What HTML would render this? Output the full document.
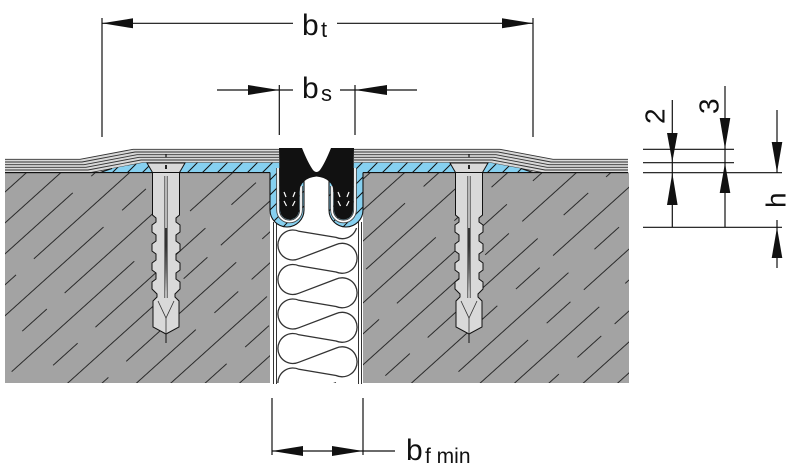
<!DOCTYPE html>
<html>
<head>
<meta charset="utf-8">
<style>
  html, body { margin: 0; padding: 0; background: #fff; }
  svg { display: block; }
  text { font-family: "Liberation Sans", Arial, sans-serif; fill: #111; }
</style>
</head>
<body>
<svg width="800" height="475" viewBox="0 0 800 475" xmlns="http://www.w3.org/2000/svg">
  <defs>
    <pattern id="ch" patternUnits="userSpaceOnUse" width="240" height="46" patternTransform="rotate(-42)">
      <g stroke="#2a2a2a" stroke-width="1.1">
        <line x1="0" y1="8" x2="165" y2="8"/>
        <line x1="190" y1="8" x2="222" y2="8"/>
        <line x1="35" y1="31" x2="68" y2="31"/>
        <line x1="92" y1="31" x2="240" y2="31"/>
      </g>
    </pattern>
    <pattern id="bh" patternUnits="userSpaceOnUse" width="15" height="15">
      <rect width="15" height="15" fill="#86d0f0"/>
      <path d="M-2,17 L17,-2 M-2,2 L2,-2 M13,17 L17,13" stroke="#111" stroke-width="1"/>
    </pattern>
    <clipPath id="foamclip"><rect x="277" y="228" width="81" height="155"/></clipPath>
  </defs>

  <!-- concrete blocks -->
  <rect x="5" y="172.5" width="265" height="210.5" fill="#a3a3a3"/>
  <rect x="5" y="172.5" width="265" height="210.5" fill="url(#ch)"/>
  <rect x="363" y="172.5" width="266" height="210.5" fill="#a3a3a3"/>
  <rect x="363" y="172.5" width="266" height="210.5" fill="url(#ch)"/>

  <!-- gap wall lines -->
  <g stroke="#333" stroke-width="1">
    <line x1="273.5" y1="222" x2="273.5" y2="384"/>
    <line x1="276.5" y1="222" x2="276.5" y2="384"/>
    <line x1="358.5" y1="222" x2="358.5" y2="384"/>
    <line x1="361.5" y1="222" x2="361.5" y2="384"/>
  </g>

  <!-- foam backer -->
  <g clip-path="url(#foamclip)">
    <path d="M336,210 A15 15 0 1 1 336,237.4 L299,231.3 A15 15 0 1 0 299,258.7 L336,244.6 A15 15 0 1 1 336,272 L299,265.8 A15 15 0 1 0 299,293.2 L336,279.1 A15 15 0 1 1 336,306.5 L299,300.3 A15 15 0 1 0 299,327.7 L336,313.6 A15 15 0 1 1 336,341 L299,334.8 A15 15 0 1 0 299,362.2 L336,348.1 A15 15 0 1 1 336,375.5 L299,369.3 A15 15 0 1 0 299,396.7 L336,382.6" fill="none" stroke="#333" stroke-width="1.3"/>
  </g>

  <!-- cover strips -->
  <polygon points="5,159.3 80,159.3 133,149.3 279,149.3 279,162.7 143,162.7 90,172.7 5,172.7" fill="#d8d8d8"/>
  <polygon points="628,159.3 553,159.3 500,149.3 354,149.3 354,162.7 490,162.7 543,172.7 628,172.7" fill="#d8d8d8"/>
  <g fill="none" stroke="#333" stroke-width="0.9">
    <polyline points="5,159.3 80,159.3 133,149.3 279,149.3"/>
    <polyline points="5,162 82,162 135,152 279,152"/>
    <polyline points="5,164.7 84,164.7 137,154.7 279,154.7"/>
    <polyline points="5,167.3 86,167.3 139,157.3 279,157.3"/>
    <polyline points="5,170 88,170 141,160 279,160"/>
    <polyline points="5,172.7 90,172.7 143,162.7 279,162.7"/>
    <polyline points="628,159.3 553,159.3 500,149.3 354,149.3"/>
    <polyline points="628,162 551,162 498,152 354,152"/>
    <polyline points="628,164.7 549,164.7 496,154.7 354,154.7"/>
    <polyline points="628,167.3 547,167.3 494,157.3 354,157.3"/>
    <polyline points="628,170 545,170 492,160 354,160"/>
    <polyline points="628,172.7 543,172.7 490,162.7 354,162.7"/>
  </g>

  <!-- blue adhesive bed + channels -->
  <path d="M100,172.5 L112,168.5 L143,162.7 L300,162.7 L300,176 L304,180 L304,210 A17 17 0 0 1 270,210 L270,172.5 Z" fill="url(#bh)"/>
  <path d="M533,172.5 L521,168.5 L490,162.7 L333,162.7 L333,176 L329,180 L329,210 A17 17 0 0 0 363,210 L363,172.5 Z" fill="url(#bh)"/>
  <g fill="none" stroke="#111" stroke-width="1.1">
    <path d="M270,172.5 L270,210 A17 17 0 0 0 304,210 L304,181"/>
    <path d="M363,172.5 L363,210 A17 17 0 0 1 329,210 L329,181"/>
    <line x1="5" y1="172.6" x2="270" y2="172.6"/>
    <line x1="363" y1="172.6" x2="628" y2="172.6"/>
    <line x1="100" y1="172.5" x2="112" y2="168.5"/>
    <line x1="533" y1="172.5" x2="521" y2="168.5"/>
  </g>
  <!-- white liner inside channels -->
  <g fill="none">
    <path d="M278,168 L278,210 A11.5 11.5 0 0 0 301,210 L301,186" stroke="#444" stroke-width="3.6"/>
    <path d="M278,168 L278,210 A11.5 11.5 0 0 0 301,210 L301,186" stroke="#fff" stroke-width="1.8"/>
    <path d="M355,168 L355,210 A11.5 11.5 0 0 1 332,210 L332,186" stroke="#444" stroke-width="3.6"/>
    <path d="M355,168 L355,210 A11.5 11.5 0 0 1 332,210 L332,186" stroke="#fff" stroke-width="1.8"/>
  </g>

  <!-- M profile -->
  <path d="M279,148 L302,148 Q308,163 313,170 Q316.5,174 320,170 Q325,163 331,148 L354,148 L353,210 A9.5 9.5 0 0 1 334,210 L334,192 Q332,178 316.5,176.5 Q301,178 299,192 L299,210 A9.5 9.5 0 0 1 280,210 Z" fill="#111"/>
  <g stroke="#fff" stroke-width="1.2">
    <line x1="284" y1="192" x2="286" y2="197"/>
    <line x1="284" y1="201" x2="286.5" y2="206"/>
    <line x1="295" y1="192" x2="293" y2="197"/>
    <line x1="295" y1="201" x2="292.5" y2="206"/>
    <line x1="338" y1="192" x2="340" y2="197"/>
    <line x1="338" y1="201" x2="340.5" y2="206"/>
    <line x1="349" y1="192" x2="347" y2="197"/>
    <line x1="349" y1="201" x2="346.5" y2="206"/>
  </g>

  <!-- anchors -->
  <g id="anchorL">
    <polygon points="147,163 185,163 179.5,172.5 152.5,172.5" fill="#d9d9d9" stroke="#111" stroke-width="1"/>
    <rect x="165" y="165" width="2" height="4" fill="#222"/>
    <line x1="166" y1="154" x2="166" y2="157.5" stroke="#111" stroke-width="1.2"/>
    <path d="M152.5,172.5 L152.5,215 L156,218 L156,222 L152,225 L152,232 L156,235 L156,241 L152,244 L152,251 L156,254 L156,260 L152,263 L152,270 L156,273 L156,279 L152,282 L152,289 L157,294 L157,297 L153,301 L153,327 L166,334 L179,327 L179,301 L175,297 L175,294 L180,289 L180,282 L176,279 L176,273 L180,270 L180,263 L176,260 L176,254 L180,251 L180,244 L176,241 L176,235 L180,232 L180,225 L176,222 L176,218 L179.5,215 L179.5,172.5 Z" fill="#d9d9d9" stroke="#111" stroke-width="1"/>
    <g stroke="#333" stroke-width="0.8" fill="none">
      <line x1="164.8" y1="176" x2="164.8" y2="298"/>
      <line x1="167.2" y1="176" x2="167.2" y2="298"/>
      <path d="M158,301 L166,318 L174,301"/>
      <line x1="166" y1="318" x2="166" y2="334"/>
    </g>
    <path d="M164.6,228 L166,292 L167.4,228 Z" fill="#333"/>
    <line x1="166" y1="334" x2="166" y2="343" stroke="#111" stroke-width="1"/>
  </g>
  <use href="#anchorL" transform="translate(303,0)"/>

  <!-- dimension lines -->
  <g stroke="#111" stroke-width="1.2" fill="none">
    <line x1="102" y1="18" x2="102" y2="137"/>
    <line x1="533" y1="18" x2="533" y2="137"/>
    <line x1="102" y1="23.3" x2="293" y2="23.3"/>
    <line x1="337" y1="23.3" x2="533" y2="23.3"/>
    <line x1="279.3" y1="85" x2="279.3" y2="135"/>
    <line x1="355" y1="85" x2="355" y2="135"/>
    <line x1="217" y1="90" x2="293" y2="90"/>
    <line x1="340" y1="90" x2="417" y2="90"/>
    <line x1="272" y1="398" x2="272" y2="455"/>
    <line x1="363" y1="398" x2="363" y2="455"/>
    <line x1="272" y1="451" x2="395" y2="451"/>
    <line x1="643" y1="149.3" x2="734" y2="149.3"/>
    <line x1="643" y1="162.7" x2="734" y2="162.7"/>
    <line x1="643" y1="172.7" x2="782" y2="172.7"/>
    <line x1="643" y1="227.3" x2="782" y2="227.3"/>
    <line x1="672.3" y1="100" x2="672.3" y2="227"/>
    <line x1="725" y1="86" x2="725" y2="227"/>
    <line x1="777" y1="110" x2="777" y2="172.5"/>
    <line x1="777" y1="220" x2="777" y2="268"/>
  </g>
  <g fill="#111">
    <polygon points="102,23.3 133,18.3 133,28.3"/>
    <polygon points="533,23.3 502,18.3 502,28.3"/>
    <polygon points="279,90 248,85 248,95"/>
    <polygon points="355,90 387,85 387,95"/>
    <polygon points="272,451 303,446 303,456"/>
    <polygon points="363,451 332,446 332,456"/>
    <polygon points="672.3,162 667,133 677.6,133"/>
    <polygon points="672.3,173 667,205 677.6,205"/>
    <polygon points="725,149 719.7,118 730.3,118"/>
    <polygon points="725,163 719.7,193 730.3,193"/>
    <polygon points="777,172.5 771.7,142 782.3,142"/>
    <polygon points="777,227.5 771.7,258 782.3,258"/>
  </g>

  <!-- labels -->
  <text x="302" y="35" font-size="30">b</text>
  <text x="321" y="37" font-size="22">t</text>
  <text x="302" y="98" font-size="30">b</text>
  <text x="321" y="101" font-size="22">s</text>
  <text x="406" y="460" font-size="30">b</text>
  <text x="425" y="463" font-size="21">f min</text>
  <text transform="translate(664.5,124) rotate(-90)" font-size="28">2</text>
  <text transform="translate(718.5,114) rotate(-90)" font-size="28">3</text>
  <text transform="translate(785.5,208) rotate(-90)" font-size="28">h</text>
</svg>
</body>
</html>
